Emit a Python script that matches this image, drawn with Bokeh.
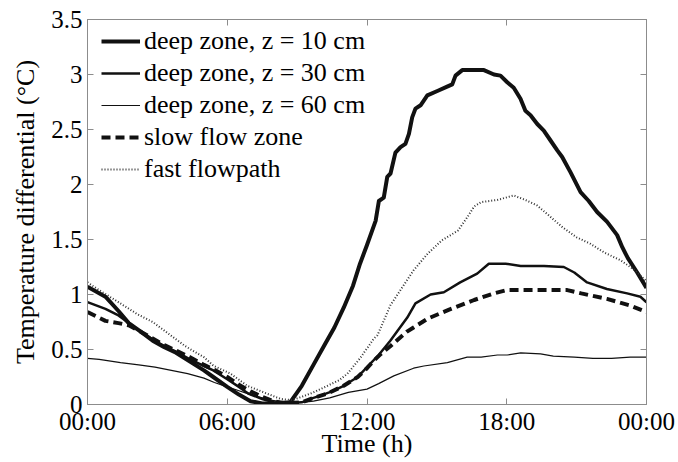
from bokeh.plotting import figure
from bokeh.models import (Range1d, FixedTicker, LinearAxis, Legend, LegendItem)
from bokeh.embed import file_html
from bokeh.resources import INLINE

# ---- data (hours since midnight, temperature differential in deg C) ----
deep10_h = [0, 0.77, 1.33, 1.77, 2.3, 2.8, 3.3, 3.8, 4.4, 5.0, 5.4, 6.0, 6.5, 7.0, 7.5, 8.0,
            8.7, 9.2, 9.7, 10.2, 10.6, 11.0, 11.4, 11.7, 12.0, 12.37, 12.51, 12.72, 12.87,
            13.01, 13.22, 13.44, 13.65, 13.8, 13.94, 14.08, 14.3, 14.59, 15.02, 15.44, 15.66,
            15.8, 16.09, 16.5, 17.02, 17.45, 17.73, 18.02, 18.3, 18.59, 18.8, 19.02, 19.31,
            19.59, 19.88, 20.17, 20.38, 20.74, 21.17, 21.52, 21.88, 22.31, 22.74, 22.96,
            23.2, 23.6, 24]
deep10_v = [1.07, 0.98, 0.85, 0.74, 0.66, 0.58, 0.52, 0.47, 0.39, 0.31, 0.25, 0.16, 0.09,
            0.03, 0.01, 0.01, 0.02, 0.17, 0.36, 0.55, 0.70, 0.88, 1.08, 1.28, 1.45, 1.67,
            1.85, 1.88, 2.07, 2.10, 2.29, 2.34, 2.37, 2.46, 2.61, 2.69, 2.72, 2.81, 2.85,
            2.89, 2.91, 2.99, 3.04, 3.04, 3.04, 3.00, 2.99, 2.93, 2.88, 2.78, 2.67, 2.63,
            2.55, 2.49, 2.40, 2.31, 2.25, 2.11, 1.93, 1.85, 1.75, 1.66, 1.54, 1.43, 1.33,
            1.20, 1.06]

deep30_h = [0, 0.77, 1.33, 1.77, 2.3, 2.8, 3.3, 3.8, 4.4, 5.0, 5.4, 6.0, 6.5, 6.9, 7.5, 8.0,
            8.5, 9.2, 9.7, 10.0, 10.5, 11.0, 11.6, 12.0, 12.5, 13.0, 13.73, 14.08, 14.73,
            15.3, 16.0, 16.73, 17.23, 17.95, 18.6, 19.6, 20.45, 20.9, 21.45, 22.3, 23.17,
            23.74, 24]
deep30_v = [0.93, 0.87, 0.81, 0.74, 0.66, 0.59, 0.53, 0.48, 0.41, 0.35, 0.31, 0.23, 0.16,
            0.10, 0.05, 0.02, 0.01, 0.02, 0.06, 0.08, 0.12, 0.17, 0.25, 0.34, 0.45, 0.58,
            0.79, 0.92, 1.00, 1.02, 1.11, 1.19, 1.28, 1.28, 1.26, 1.26, 1.25, 1.20, 1.11,
            1.05, 1.01, 0.98, 0.93]

deep60_h = [0, 0.5, 1.42, 2.2, 2.9, 3.6, 4.3, 5.0, 5.45, 6.0, 6.44, 7.0, 7.86, 8.5, 9.2,
            9.7, 10.4, 11.2, 12.0, 12.5, 13.15, 14.0, 14.44, 15.45, 16.3, 16.9, 17.6, 18.02,
            18.6, 19.45, 20.0, 20.9, 21.7, 22.5, 23.3, 24]
deep60_v = [0.42, 0.41, 0.38, 0.36, 0.34, 0.31, 0.28, 0.24, 0.20, 0.16, 0.13, 0.09, 0.04,
            0.02, 0.02, 0.03, 0.06, 0.11, 0.14, 0.19, 0.26, 0.33, 0.35, 0.38, 0.43, 0.43,
            0.45, 0.45, 0.47, 0.46, 0.44, 0.43, 0.42, 0.42, 0.43, 0.43]

slow_h = [0, 0.77, 1.33, 1.77, 2.3, 2.8, 3.3, 3.8, 4.4, 5.0, 5.5, 6.0, 6.5, 7.0, 7.5, 8.0,
          8.5, 9.2, 9.7, 10.3, 11.0, 11.6, 12.0, 12.3, 12.6, 13.0, 13.7, 14.0, 14.6, 15.5,
          16.6, 17.45, 18.0, 19.5, 20.6, 21.2, 22.3, 23.3, 24]
slow_v = [0.84, 0.76, 0.74, 0.72, 0.66, 0.60, 0.54, 0.49, 0.43, 0.36, 0.31, 0.25, 0.18,
          0.12, 0.07, 0.03, 0.01, 0.02, 0.06, 0.10, 0.17, 0.25, 0.33, 0.40, 0.46, 0.53,
          0.66, 0.70, 0.78, 0.86, 0.95, 1.01, 1.04, 1.04, 1.04, 1.01, 0.96, 0.90, 0.84]

fast_h = [0, 0.5, 1.33, 2.15, 2.8, 3.5, 4.2, 5.0, 5.42, 6.14, 6.86, 7.57, 8.3, 8.8, 9.2,
          9.7, 10.3, 10.8, 11.16, 11.7, 12.3, 12.45, 13.0, 13.5, 14.0, 14.6, 15.2, 15.9,
          16.3, 16.6, 16.9, 17.6, 18.3, 18.8, 19.3, 19.8, 20.4, 21.0, 21.6, 22.2, 22.9,
          23.5, 24]
fast_v = [1.11, 1.04, 0.93, 0.82, 0.75, 0.64, 0.53, 0.43, 0.35, 0.28, 0.17, 0.11, 0.05,
          0.04, 0.07, 0.11, 0.17, 0.22, 0.28, 0.42, 0.60, 0.63, 0.90, 1.06, 1.22, 1.37,
          1.49, 1.58, 1.70, 1.80, 1.84, 1.86, 1.90, 1.86, 1.81, 1.72, 1.61, 1.52, 1.46,
          1.38, 1.31, 1.22, 1.12]

x_ticks = [0, 6, 12, 18, 24]
x_tick_labels = ["00:00", "06:00", "12:00", "18:00", "00:00"]
y_ticks = [0, 0.5, 1, 1.5, 2, 2.5, 3, 3.5]
y_tick_labels = ["0", "0.5", "1", "1.5", "2", "2.5", "3", "3.5"]

series_labels = ["deep zone, z = 10 cm", "deep zone, z = 30 cm", "deep zone, z = 60 cm",
                 "slow flow zone", "fast flowpath"]

FONT = "'Liberation Serif', 'Times New Roman', serif"
FRAME = "#8c8c8c"
INK = "#111111"

p = figure(width=678, height=462, output_backend="svg", toolbar_location=None,
           x_range=Range1d(0, 24), y_range=Range1d(0, 3.5),
           min_border_left=87, min_border_right=32, min_border_top=19, min_border_bottom=58)
p.xgrid.visible = False
p.ygrid.visible = False
p.outline_line_color = FRAME
p.outline_line_width = 1
p.background_fill_color = "white"
p.border_fill_color = "white"

def style_axis(ax, ticks, overrides, show_labels=True):
    ax.ticker = FixedTicker(ticks=ticks)
    ax.major_label_overrides = {t: s for t, s in zip(ticks, overrides)}
    ax.minor_tick_line_color = None
    ax.major_tick_in = 6
    ax.major_tick_out = 0
    ax.axis_line_color = FRAME
    ax.major_tick_line_color = FRAME
    ax.major_label_text_font = FONT
    ax.major_label_text_color = "black"
    if show_labels:
        ax.major_label_text_font_size = "25px"
        ax.major_label_standoff = 3
    else:
        ax.major_label_text_font_size = "0px"
        ax.major_label_standoff = 0

style_axis(p.xaxis[0], x_ticks, x_tick_labels)
style_axis(p.yaxis[0], y_ticks, y_tick_labels)
p.yaxis[0].major_label_standoff = 5
p.xaxis[0].axis_label = "Time (h)"
p.yaxis[0].axis_label = "Temperature differential (°C)"
for ax in (p.xaxis[0], p.yaxis[0]):
    ax.axis_label_text_font = FONT
    ax.axis_label_text_font_size = "26px"
    ax.axis_label_text_font_style = "normal"
    ax.axis_label_text_color = "black"
p.xaxis[0].axis_label_standoff = -9
p.yaxis[0].axis_label_standoff = 8

top_ax = LinearAxis()
style_axis(top_ax, x_ticks, ["" for _ in x_ticks], show_labels=False)
p.add_layout(top_ax, "above")
right_ax = LinearAxis()
style_axis(right_ax, y_ticks, ["" for _ in y_ticks], show_labels=False)
p.add_layout(right_ax, "right")

r10 = p.line(deep10_h, deep10_v, line_color=INK, line_width=4, line_join="round")
r30 = p.line(deep30_h, deep30_v, line_color=INK, line_width=2.5, line_join="round")
r60 = p.line(deep60_h, deep60_v, line_color=INK, line_width=1.2, line_join="round")
rslow = p.line(slow_h, slow_v, line_color=INK, line_width=4, line_dash="9 5")
rfast = p.line(fast_h, fast_v, line_color="#333333", line_width=2, line_dash="1 2")

legend = Legend(items=[LegendItem(label=lab, renderers=[r])
                       for lab, r in zip(series_labels, [r10, r30, r60, rslow, rfast])],
                location=(14, 219), orientation="vertical",
                glyph_width=39, glyph_height=32, label_height=32, spacing=0,
                padding=0, margin=0, label_standoff=4,
                label_text_font=FONT, label_text_font_size="26px",
                label_text_color="black",
                border_line_color=None, background_fill_alpha=0)
p.add_layout(legend)

open("out.html", "w").write(file_html(p, INLINE))
